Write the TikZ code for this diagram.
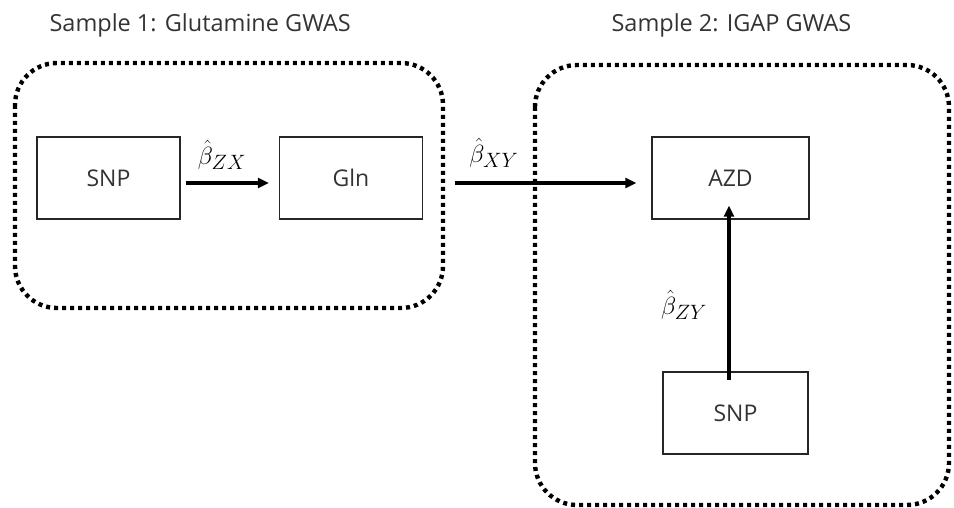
\documentclass[tikz,border=0pt]{standalone}
\usepackage{fontspec}
\setmainfont{Open Sans}
\usetikzlibrary{arrows.meta}
\tikzset{
  group/.style={line width=4.4pt, dash pattern=on 4pt off 4pt, rounded corners=42pt, black},
  varbox/.style={draw=black!85, line width=1.3pt, minimum width=#1, minimum height=82pt, inner sep=0pt, font=\fontsize{23}{26}\selectfont, text=black!80},
  varbox/.default=143pt,
  effect/.style={line width=3.6pt, -{Triangle[length=11pt,width=10pt]}},
  coef/.style={font=\fontsize{28}{32}\selectfont},
  heading/.style={font=\fontsize{23.5}{27}\selectfont, text=black!80, anchor=west}
}
\begin{document}
\begin{tikzpicture}[x=1pt,y=-1pt]
\useasboundingbox (0,0) rectangle (954,508);

% sample groupings
\draw[group] (15,63) rectangle (443,308);
\draw[group] (535,65) rectangle (949,505);

% headings
\node[heading] (h1) at (46,25) {Sample 1: Glutamine GWAS};
\node[heading] (h2) at (608,25) {Sample 2: IGAP GWAS};

% variables
\node[varbox] (snp1) at (108.5,178) {SNP};
\node[varbox] (gln) at (351,178) {Gln};
\node[varbox=157pt] (azd) at (730.5,178) {AZD};
\node[varbox=145pt] (snp2) at (735.5,413) {SNP};

% connector ends
\coordinate (xyStart) at (455,183);

% effects
\draw[effect] ([xshift=5pt]snp1.east |- 0,183) -- ([xshift=-10pt]gln.west |- 0,183);
\draw[effect] (xyStart) -- ([xshift=-15pt]azd.west |- 0,183);
\draw[effect] ([yshift=-9pt]snp2.north -| 729,0) -- ([yshift=14pt]azd.south -| 729,0);

% coefficient labels
\node[coef] (bzx) at (222,155) {$\hat{\beta}_{ZX}$};
\node[coef] (bxy) at (494,153) {$\hat{\beta}_{XY}$};
\node[coef] (bzy) at (684,305) {$\hat{\beta}_{ZY}$};
\end{tikzpicture}
\end{document}
